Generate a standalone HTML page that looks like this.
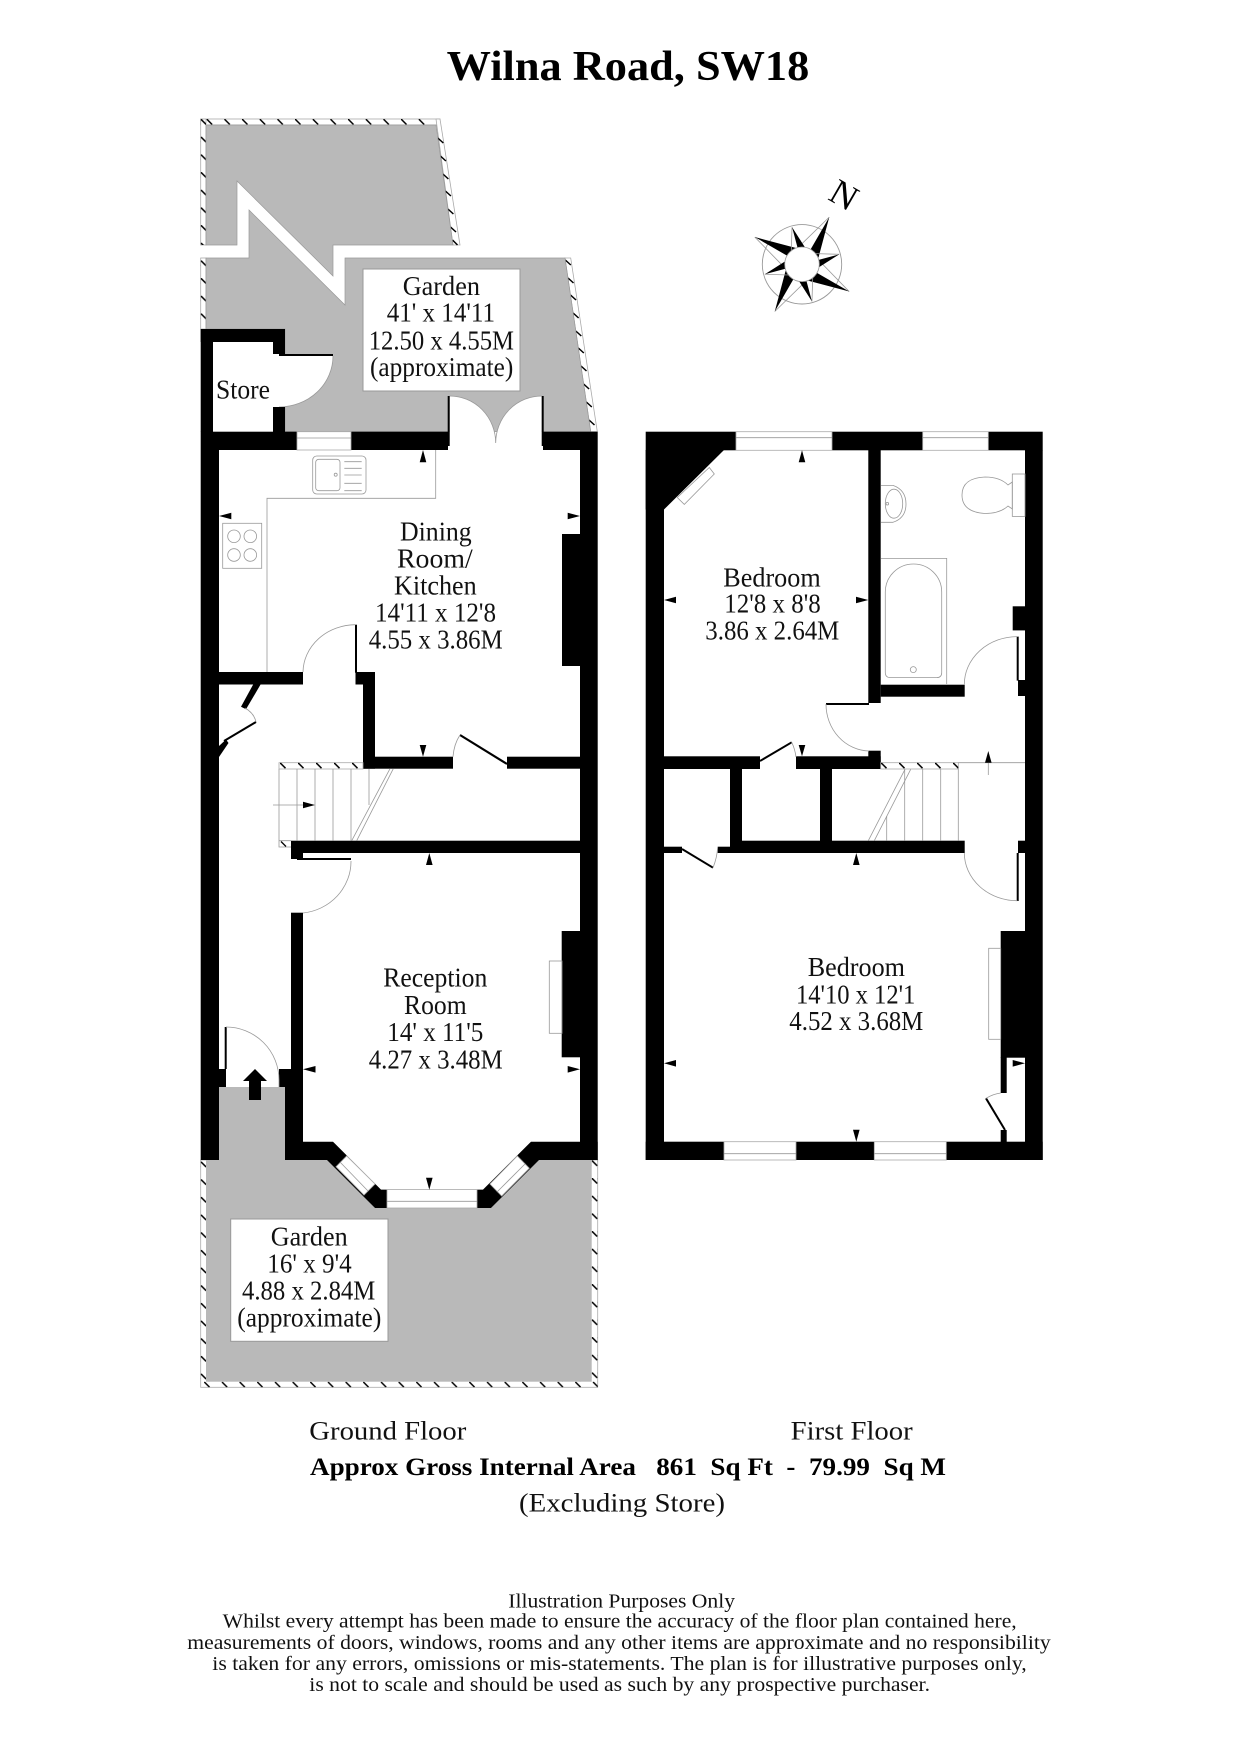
<!DOCTYPE html>
<html>
<head>
<meta charset="utf-8">
<style>
html,body{margin:0;padding:0;background:#fff}
svg{display:block}
text{font-family:"Liberation Serif",serif;fill:#111;text-anchor:start}
.p{font-size:27px}
.g{fill:#000}
.l{fill:none;stroke:#999;stroke-width:.8}
.w{fill:#fff;stroke:#aaa;stroke-width:.8}
.f{font-size:20px}
</style>
</head>
<body>
<svg xmlns="http://www.w3.org/2000/svg" width="1240" height="1754" viewBox="0 0 1240 1754">
<defs>
<pattern id="hh" patternUnits="userSpaceOnUse" x="224.3" y="119" width="17.67" height="6"><path d="M0 0L5.5 5.5" stroke="#000" stroke-width="1.5"/></pattern>
<pattern id="hb" patternUnits="userSpaceOnUse" x="221.7" y="1381.7" width="17.67" height="6"><path d="M0 0L5.5 5.5" stroke="#000" stroke-width="1.5"/></pattern>
<pattern id="hs" patternUnits="userSpaceOnUse" x="280" y="762.7" width="18" height="6.3"><path d="M0 0L5.5 5.5" stroke="#000" stroke-width="1.5"/></pattern>
<pattern id="ht" patternUnits="userSpaceOnUse" x="881" y="762.7" width="18" height="6.3"><path d="M0 0L5.5 5.5" stroke="#000" stroke-width="1.5"/></pattern>
<pattern id="vv" patternUnits="userSpaceOnUse" x="200.7" y="136.7" width="6" height="17.67"><path d="M0 0L5.5 5.5" stroke="#000" stroke-width="1.5"/></pattern>
<pattern id="vr" patternUnits="userSpaceOnUse" x="591.7" y="1178" width="6" height="17.67"><path d="M0 0L5.5 5.5" stroke="#000" stroke-width="1.5"/></pattern>
</defs>

<text x="446.7" y="80" font-size="42" font-weight="bold" textLength="362.6" lengthAdjust="spacingAndGlyphs" style="fill:#000">Wilna Road, SW18</text>

<!-- rear garden strips -->
<rect x="200.7" y="119" width="239.3" height="6" class="w"/>
<rect x="200.7" y="119" width="239.3" height="6" fill="url(#hh)"/>
<rect x="200.7" y="119" width="5.3" height="126" class="w"/>
<rect x="200.7" y="119" width="5.3" height="126" fill="url(#vv)"/>
<rect x="200.7" y="258" width="5.3" height="71" class="w"/>
<rect x="200.7" y="258" width="5.3" height="71" fill="url(#vv)"/>
<path d="M436 119H440L460 245H453Z" class="w"/>
<path d="M437.8 138l5.5 5M440.4 156l5.5 5M442.9 174l5.5 5M445.4 191l5.5 5M447.9 209l5.5 5M450.5 227l5.5 5M452.5 240l5 5" stroke="#000" stroke-width="1.5" fill="none"/>
<path d="M565 258H570.7L597.3 431.7H590.7Z" class="w"/>
<path d="M565.3 260l5.5 5M568 278l5.5 5M570.5 295l5.5 5M573.1 313l5.5 5M575.8 331l5.5 5M578.3 348l5.5 5M581 366l5.5 5M583.6 384l5.5 5M586.3 402l5.5 5M589 420l5.5 5" stroke="#000" stroke-width="1.5" fill="none"/>

<!-- rear garden grey -->
<path d="M206 125H436L453 245H333V276L237 181V245H206Z" fill="#b9b9b9" stroke="#999" stroke-width=".7"/>
<path d="M206 258H249V210L345 305V258H565L590.7 431.7H285V329H206Z" fill="#b9b9b9" stroke="#999" stroke-width=".7"/>

<!-- front garden -->
<rect x="200.7" y="1160" width="397" height="227.3" class="w"/>
<rect x="200.7" y="1160" width="5.3" height="227.3" fill="url(#vv)"/>
<rect x="591.7" y="1160" width="6" height="227.3" fill="url(#vr)"/>
<rect x="200.7" y="1381.7" width="397" height="5.6" fill="url(#hb)"/>
<rect x="206" y="1160" width="385.7" height="221.7" fill="#b9b9b9"/>
<rect x="219" y="1087" width="66" height="74" fill="#b9b9b9"/>
<path d="M327 1159L375 1208H491L539 1159Z" fill="#fff"/>

<!-- store white and door -->
<rect x="213" y="342" width="60" height="90" fill="#fff"/>
<path d="M273 354H333A54 51 0 0 1 279 407H273Z" fill="#fff"/>
<path d="M333 356A54 51 0 0 1 279 407" class="l"/>
<!-- french doors -->
<path d="M449.7 396A46 47 0 0 1 495.7 443A46 47 0 0 1 541.7 396V445H449.7Z" fill="#fff"/>
<path d="M449.7 396A46 47 0 0 1 495.7 443A46 47 0 0 1 541.7 396" class="l"/>

<!-- ground floor walls -->
<g class="g">
<rect x="200.7" y="329" width="84.3" height="13"/>
<rect x="200.7" y="329" width="12.3" height="103"/>
<rect x="273" y="329" width="12" height="25"/>
<rect x="273" y="407" width="12" height="25"/>
<rect x="279" y="354" width="54" height="2"/>
<rect x="200.7" y="431.7" width="96.3" height="18.3"/>
<rect x="351" y="431.7" width="97" height="18.3"/>
<rect x="447.7" y="396" width="2" height="50"/>
<rect x="541.7" y="396" width="2" height="50"/>
<rect x="543" y="431.7" width="54.7" height="18.3"/>
<rect x="200.7" y="450" width="18.3" height="710"/>
<rect x="580" y="450" width="17.7" height="710"/>
<rect x="562" y="534" width="18" height="132"/>
<rect x="219" y="672" width="84" height="12.5"/>
<rect x="355.5" y="672" width="19.5" height="12.5"/>
<rect x="363" y="684" width="12" height="84.7"/>
<rect x="355" y="624.7" width="2" height="48"/>
<rect x="363" y="756.7" width="90" height="12"/>
<rect x="507" y="756.7" width="73" height="12"/>
<rect x="291" y="840.7" width="289" height="12.3"/>
<rect x="291" y="853" width="12" height="6"/>
<rect x="297" y="858" width="54" height="2"/>
<rect x="291" y="912.7" width="12" height="175"/>
<rect x="279" y="1069" width="24" height="18"/>
<rect x="285" y="1087" width="18" height="73"/>
<rect x="219" y="1069" width="7" height="18"/>
<rect x="224.7" y="1027" width="2" height="42"/>
<rect x="561.7" y="931" width="18.3" height="126.3"/>
<path d="M285 1160H327L375 1208H491L539 1160H597.7V1141.7H531L483 1189.6H381L333 1141.7H285Z"/>
<!-- closet -->
<path d="M253.3 684.3H260.7L246 709.3L241 706.7Z"/>
<path d="M219 757V746L226 739.5L228.5 743Z"/>
</g>
<path d="M507 764L460 735" stroke="#000" stroke-width="2.2" fill="none"/>
<path d="M224 741L256 722" stroke="#000" stroke-width="2" fill="none"/>
<path d="M245 708Q254 713 256 722" class="l"/>
<path d="M460 735Q454 744 453 756.7" class="l"/>
<path d="M355.5 624.7A53 48 0 0 0 303 672" class="l"/>
<path d="M351 861A54 52 0 0 1 303 913" class="l"/>
<path d="M226 1027A53 53 0 0 1 279 1080V1087" class="l"/>

<!-- windows ground -->
<rect x="297" y="431.7" width="54" height="18.3" class="w"/>
<path d="M297 438H351" class="l"/>
<rect x="387" y="1189.6" width="90" height="18.4" class="w"/>
<path d="M387 1201.3H477" class="l"/>
<path d="M346.7 1156L375 1184L364 1195L336 1166.7Z" class="w"/>
<path d="M340 1162L368 1191" class="l"/>
<path d="M517.3 1156L490 1184L501.7 1196L529.3 1168.3Z" class="w"/>
<path d="M525 1164L497 1192" class="l"/>

<!-- kitchen fittings -->
<path d="M267 672V498.3H435.7V450" class="l"/>
<rect x="222.7" y="523.3" width="39" height="45" class="l"/>
<circle cx="234" cy="536.3" r="6.3" class="l"/><circle cx="250.3" cy="536.3" r="6.3" class="l"/>
<circle cx="234" cy="555" r="6.3" class="l"/><circle cx="250.3" cy="555" r="6.3" class="l"/>
<rect x="312.7" y="456" width="53.3" height="38" rx="4" class="l"/>
<rect x="315.7" y="459.3" width="24.3" height="31.4" rx="3" class="l"/>
<circle cx="335.7" cy="474.7" r="1.5" class="l"/>
<path d="M344.3 461.7H361.7M344.3 468.3H361.7M344.3 475H361.7M344.3 483.3H361.7M344.3 490.7H361.7" class="l"/>
<rect x="549.3" y="961" width="12.7" height="72.3" class="l"/>

<!-- ground stairs -->
<rect x="279" y="762.7" width="84" height="6.3" class="w"/>
<rect x="279" y="762.7" width="84" height="6.3" fill="url(#hs)"/>
<path d="M279 769V847H291M297 769V840.7M315 769V840.7M333 769V840.7M351 769V840.7M369 769V805M279 840.7H291" class="l"/>
<path d="M281 841.5l5 5" stroke="#000" stroke-width="1.3"/>
<path d="M390 768.7L351.7 840.7M393.3 768.7L356.7 840.7" class="l"/>
<path d="M273 805H303" class="l"/>
<polygon points="303,801.7 303,808.3 315,805"/>

<!-- ground arrows -->
<g class="g">
<polygon points="423,450 419.7,462.3 426.3,462.3"/>
<polygon points="219,516 231.3,512.7 231.3,519.3"/>
<polygon points="580,516 567.7,512.7 567.7,519.3"/>
<polygon points="423,756.7 419.7,745 426.3,745"/>
<polygon points="429.3,853 426,865 432.6,865"/>
<polygon points="303,1069.3 315.5,1066 315.5,1072.6"/>
<polygon points="580,1069.3 567.7,1066 567.7,1072.6"/>
<polygon points="429.3,1189.7 426,1177.7 432.6,1177.7"/>
<polygon points="255,1069 267,1081 261,1081 261,1100 249,1100 249,1081 243,1081"/>
</g>

<!-- first floor walls -->
<g class="g">
<rect x="645.7" y="431.7" width="90.3" height="18.6"/>
<rect x="832" y="431.7" width="90.7" height="18.6"/>
<rect x="988.3" y="431.7" width="54.4" height="18.6"/>
<polygon points="645.7,450 724,450 664,509.5 645.7,509.5"/>
<rect x="645.7" y="450" width="18.3" height="710"/>
<rect x="1025" y="450" width="17.7" height="710"/>
<rect x="645.7" y="1141.7" width="78.3" height="18.3"/>
<rect x="796" y="1141.7" width="78.3" height="18.3"/>
<rect x="946.3" y="1141.7" width="96.4" height="18.3"/>
<rect x="868.3" y="450" width="12.4" height="253"/>
<rect x="880.7" y="684.7" width="84" height="12"/>
<rect x="826" y="703" width="43" height="2"/>
<rect x="868.3" y="750.7" width="12.4" height="18.3"/>
<rect x="664" y="756.3" width="96" height="12.7"/>
<rect x="796" y="756.3" width="84.7" height="12.7"/>
<rect x="730" y="769" width="12" height="72"/>
<rect x="820" y="769" width="12" height="72"/>
<rect x="730" y="840.7" width="234.7" height="12.3"/>
<rect x="717.7" y="846.7" width="12.3" height="6.3"/>
<rect x="664" y="846.7" width="18" height="6.3"/>
<rect x="1018" y="840.7" width="7" height="12.3"/>
<rect x="1016.7" y="853" width="2" height="48"/>
<rect x="1018" y="680" width="7" height="16"/>
<rect x="1016.7" y="636.6" width="2" height="44"/>
<rect x="1012.7" y="606.3" width="12.3" height="24.1"/>
<rect x="1000.7" y="931" width="24.3" height="126.7"/>
<rect x="1000.7" y="1057" width="6" height="36"/>
<rect x="1000.7" y="1130" width="6" height="12"/>
</g>
<path d="M760 761L791.7 742.3" stroke="#000" stroke-width="2" fill="none"/>
<path d="M682 849L713 867.7" stroke="#000" stroke-width="2" fill="none"/>
<path d="M986 1098.3L1005 1130" stroke="#000" stroke-width="2" fill="none"/>
<path d="M791.7 742.3Q795 749 796 757" class="l"/>
<path d="M713 867.7Q717 858 717.7 847" class="l"/>
<path d="M986 1098.3Q993 1094 1000.7 1093" class="l"/>
<path d="M826 704A44 47 0 0 0 869 751" class="l"/>
<path d="M964.3 853A53 48 0 0 0 1017.3 900.7" class="l"/>
<path d="M1017.7 636.6A53 48 0 0 0 964.3 685" class="l"/>

<!-- first floor windows -->
<rect x="736" y="431.7" width="96" height="18.6" class="w"/><path d="M736 437.7H832" class="l"/>
<rect x="922.7" y="431.7" width="65.6" height="18.6" class="w"/><path d="M922.7 437.7H988.3" class="l"/>
<rect x="724" y="1141.7" width="72" height="18.3" class="w"/><path d="M724 1153.7H796" class="l"/>
<rect x="874.3" y="1141.7" width="72" height="18.3" class="w"/><path d="M874.3 1153.7H946.3" class="l"/>

<!-- first floor fittings -->
<polygon points="709.3,467.5 714.3,474 684.3,504.4 677.3,497.5" class="l"/>
<rect x="988.7" y="948.3" width="12" height="91" class="l"/>
<path d="M880.7 485.4H893Q906 490 906 504Q906 518 893 522.3H880.7" class="l"/>
<ellipse cx="894" cy="503.7" rx="8.7" ry="14.5" class="l"/>
<circle cx="887.3" cy="503.7" r="1.3" class="l"/>
<rect x="1012.3" y="474" width="12.7" height="42.4" class="l"/>
<path d="M1012.3 482L1008 485Q1000 477 985 477Q962 478 962 495Q962 512 985 513.5Q1000 513.5 1008 506L1012.3 509Z" class="l"/>
<path d="M880.7 558.4H946.7V684" class="l"/>
<path d="M885.3 592A28.2 28 0 0 1 941.7 592V672.6Q941.7 677.6 936.7 677.6H890.3Q885.3 677.6 885.3 672.6Z" class="l"/>
<circle cx="913.3" cy="669.6" r="3" class="l"/>

<!-- first stairs -->
<rect x="880.7" y="762.7" width="77.6" height="6.3" class="w"/>
<rect x="880.7" y="762.7" width="77.6" height="6.3" fill="url(#ht)"/>
<path d="M958.3 762.7H1025M886.7 816V840.7M904.7 769V840.7M922.7 769V840.7M940.7 769V840.7M958.3 769V840.7" class="l"/>
<path d="M905 769.3L868.3 840.7M910.7 769.3L874.3 840.7" class="l"/>
<path d="M988.3 762.7V775" class="l"/>
<polygon points="988.3,751 985,762.7 991.6,762.7"/>

<!-- first arrows -->
<g class="g">
<polygon points="802,450.3 798.7,462.3 805.3,462.3"/>
<polygon points="664,600 676,596.7 676,603.3"/>
<polygon points="868.3,600 856,596.7 856,603.3"/>
<polygon points="802,756.3 798.7,745 805.3,745"/>
<polygon points="856.3,853 853,865 859.6,865"/>
<polygon points="664,1063.3 676,1060 676,1066.6"/>
<polygon points="1025,1063.3 1012.7,1060 1012.7,1066.6"/>
<polygon points="856.3,1141.7 853,1129.7 859.6,1129.7"/>
</g>

<!-- compass -->
<g transform="translate(802,264.3)">
<circle r="39.7" fill="#fff" stroke="#999" stroke-width=".9"/>
<g transform="rotate(30)"><path d="M0 -54.5L-12 -12" class="l"/><path d="M0 -54.5V-10H12Z"/></g>
<g transform="rotate(120)"><path d="M0 -54.5L-12 -12" class="l"/><path d="M0 -54.5V-10H12Z"/></g>
<g transform="rotate(210)"><path d="M0 -54.5L-12 -12" class="l"/><path d="M0 -54.5V-10H12Z"/></g>
<g transform="rotate(300)"><path d="M0 -54.5L-12 -12" class="l"/><path d="M0 -54.5V-10H12Z"/></g>
<g transform="rotate(-15)"><path d="M0 -38.5L-8 -12" class="l"/><path d="M0 -38.5V-10H9Z"/></g>
<g transform="rotate(75)"><path d="M0 -38.5L-8 -12" class="l"/><path d="M0 -38.5V-10H9Z"/></g>
<g transform="rotate(165)"><path d="M0 -38.5L-8 -12" class="l"/><path d="M0 -38.5V-10H9Z"/></g>
<g transform="rotate(255)"><path d="M0 -38.5L-8 -12" class="l"/><path d="M0 -38.5V-10H9Z"/></g>
<circle r="17.3" fill="#fff" stroke="#999" stroke-width=".8"/>
</g>
<text x="0" y="0" font-size="36" transform="translate(844,195) rotate(30) translate(-13,12)" style="fill:#000">N</text>

<!-- labels -->
<rect x="363" y="269" width="157" height="122" fill="#fff" stroke="#999" stroke-width="1"/>
<rect x="230.7" y="1219" width="157.3" height="122.3" fill="#fff" stroke="#999" stroke-width="1"/>
<g class="p">
<text x="402.7" y="295" textLength="77.3" lengthAdjust="spacingAndGlyphs">Garden</text>
<text x="386.7" y="321.7" textLength="108.3" lengthAdjust="spacingAndGlyphs">41' x 14'11</text>
<text x="368.7" y="349.3" textLength="145.3" lengthAdjust="spacingAndGlyphs">12.50 x 4.55M</text>
<text x="370" y="376" textLength="143.3" lengthAdjust="spacingAndGlyphs">(approximate)</text>
<text x="216" y="398.7" textLength="54" lengthAdjust="spacingAndGlyphs">Store</text>
<text x="400" y="540.7" textLength="71.7" lengthAdjust="spacingAndGlyphs">Dining</text>
<text x="397" y="567.3" textLength="75.7" lengthAdjust="spacingAndGlyphs">Room/</text>
<text x="394" y="594.3" textLength="82.7" lengthAdjust="spacingAndGlyphs">Kitchen</text>
<text x="375" y="621.3" textLength="121" lengthAdjust="spacingAndGlyphs">14'11 x 12'8</text>
<text x="368.7" y="648.7" textLength="134" lengthAdjust="spacingAndGlyphs">4.55 x 3.86M</text>
<text x="383.3" y="986.7" textLength="104" lengthAdjust="spacingAndGlyphs">Reception</text>
<text x="404" y="1014" textLength="62.7" lengthAdjust="spacingAndGlyphs">Room</text>
<text x="387.3" y="1041" textLength="96" lengthAdjust="spacingAndGlyphs">14' x 11'5</text>
<text x="368.7" y="1068.3" textLength="134" lengthAdjust="spacingAndGlyphs">4.27 x 3.48M</text>
<text x="270.7" y="1245.7" textLength="77" lengthAdjust="spacingAndGlyphs">Garden</text>
<text x="267.3" y="1272.7" textLength="84.4" lengthAdjust="spacingAndGlyphs">16' x 9'4</text>
<text x="242" y="1299.3" textLength="133.3" lengthAdjust="spacingAndGlyphs">4.88 x 2.84M</text>
<text x="237.3" y="1326.7" textLength="144" lengthAdjust="spacingAndGlyphs">(approximate)</text>
<text x="723.3" y="586.3" textLength="97.4" lengthAdjust="spacingAndGlyphs">Bedroom</text>
<text x="724.3" y="612.5" textLength="96.4" lengthAdjust="spacingAndGlyphs">12'8 x 8'8</text>
<text x="705.3" y="639.3" textLength="134" lengthAdjust="spacingAndGlyphs">3.86 x 2.64M</text>
<text x="807.7" y="976" textLength="97.3" lengthAdjust="spacingAndGlyphs">Bedroom</text>
<text x="796" y="1003.3" textLength="119.3" lengthAdjust="spacingAndGlyphs">14'10 x 12'1</text>
<text x="789.3" y="1030" textLength="134" lengthAdjust="spacingAndGlyphs">4.52 x 3.68M</text>
</g>

<text x="309.3" y="1439.3" font-size="26" textLength="157" lengthAdjust="spacingAndGlyphs">Ground Floor</text>
<text x="790.7" y="1439.3" font-size="26" textLength="122" lengthAdjust="spacingAndGlyphs">First Floor</text>
<text x="310" y="1475" font-size="25" font-weight="bold" textLength="636" lengthAdjust="spacingAndGlyphs" xml:space="preserve" style="white-space:pre;fill:#000">Approx Gross Internal Area   861  Sq Ft  -  79.99  Sq M</text>
<text x="519" y="1511.7" font-size="26" textLength="206" lengthAdjust="spacingAndGlyphs">(Excluding Store)</text>

<g class="f">
<text x="508.3" y="1607.7" textLength="226.7" lengthAdjust="spacingAndGlyphs">Illustration Purposes Only</text>
<text x="222.7" y="1627.7" textLength="794" lengthAdjust="spacingAndGlyphs">Whilst every attempt has been made to ensure the accuracy of the floor plan contained here,</text>
<text x="187.3" y="1649" textLength="863.4" lengthAdjust="spacingAndGlyphs">measurements of doors, windows, rooms and any other items are approximate and no responsibility</text>
<text x="212.3" y="1670" textLength="814.4" lengthAdjust="spacingAndGlyphs">is taken for any errors, omissions or mis-statements. The plan is for illustrative purposes only,</text>
<text x="309.3" y="1691" textLength="620.7" lengthAdjust="spacingAndGlyphs">is not to scale and should be used as such by any prospective purchaser.</text>
</g>
</svg>
</body>
</html>
